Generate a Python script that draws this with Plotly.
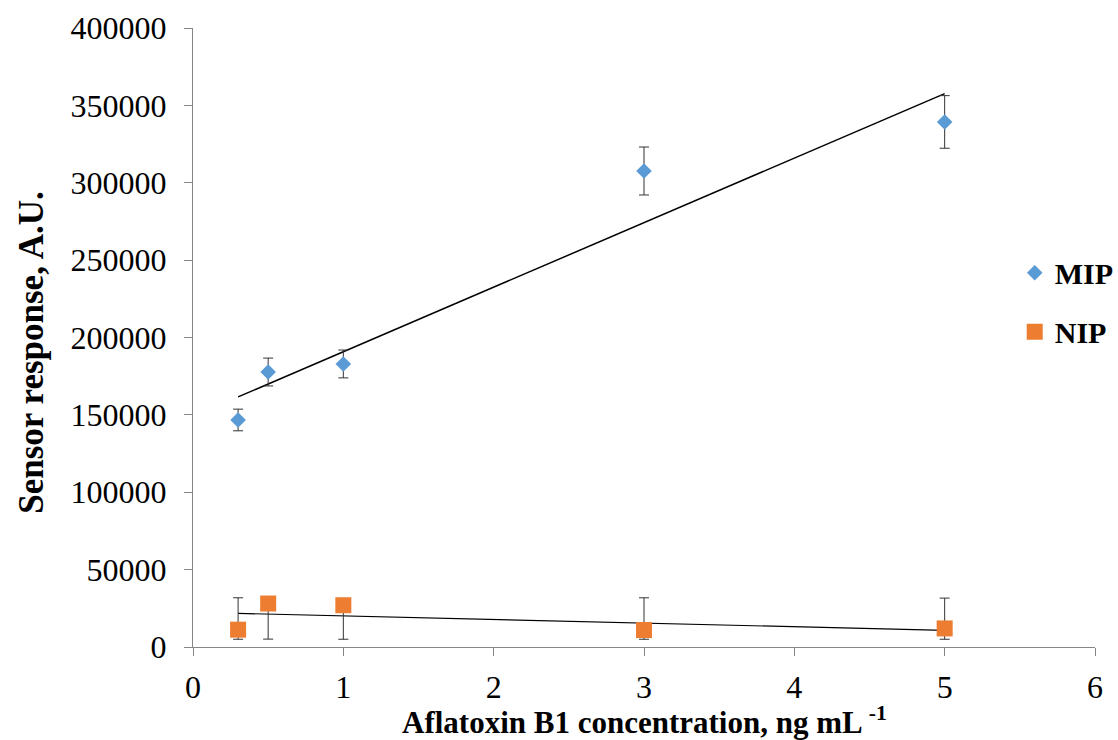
import numpy as np
import plotly.graph_objects as go

conc = [0.3, 0.5, 1, 3, 5]
mip = [146700, 177700, 182900, 307600, 339300]
mip_err = [7000, 9000, 9000, 15500, 17000]
nip = [11200, 28100, 27000, 11000, 12000]
nip_err_plus = [20600, 4000, 4000, 20800, 19600]
nip_err_minus = [6200, 23000, 22000, 6000, 7000]

x_ticks = [0, 1, 2, 3, 4, 5, 6]
y_ticks = list(range(0, 400001, 50000))

FONT = "Liberation Serif"

fig = go.Figure()

# trendlines (linear least squares, like Excel)
for ys, w in ((mip, 1.5), (nip, 1.2)):
    k, b = np.polyfit(conc, ys, 1)
    xs = [min(conc), max(conc)]
    fig.add_trace(go.Scatter(x=xs, y=[k * v + b for v in xs], mode="lines",
                             line=dict(color="black", width=w),
                             showlegend=False, hoverinfo="skip"))

fig.add_trace(go.Scatter(
    x=conc, y=mip, mode="markers", name="MIP", legendgroup="a",
    marker=dict(symbol="diamond", size=12, color="#5B9BD5"),
    error_y=dict(type="data", array=mip_err, color="#333333", thickness=1, width=5)))
fig.add_trace(go.Scatter(
    x=conc, y=nip, mode="markers", name="NIP", legendgroup="b",
    marker=dict(symbol="square", size=16, color="#ED7D31"),
    error_y=dict(type="data", symmetric=False, array=nip_err_plus,
                 arrayminus=nip_err_minus, color="#333333", thickness=1, width=5)))

axis_common = dict(showline=True, linecolor="#868686", linewidth=1,
                   showgrid=False, zeroline=False, ticks="outside",
                   tickcolor="#868686", ticklen=8,
                   tickfont=dict(family=FONT, size=32, color="black"))

fig.update_xaxes(range=[0, 6], tickvals=x_ticks, ticklabelstandoff=4, **axis_common)
fig.update_yaxes(range=[0, 400000], tickvals=y_ticks, tickformat="d",
                 ticklabelstandoff=11, **axis_common)

fig.add_annotation(text="<b>Aflatoxin B1 concentration, ng mL <sup>-1</sup></b>",
                   xref="paper", yref="paper", x=0.5, y=-0.118,
                   xanchor="center", yanchor="middle", showarrow=False,
                   font=dict(family=FONT, size=31, color="black"))
fig.add_annotation(text="<b>Sensor response, A.U.</b>", textangle=-90,
                   xref="paper", yref="paper", x=-0.1785, y=0.477,
                   xanchor="center", yanchor="middle", showarrow=False,
                   font=dict(family=FONT, size=35, color="black"))

fig.update_layout(
    width=1118, height=740,
    margin=dict(l=193, r=23, t=28, b=93, autoexpand=False),
    paper_bgcolor="white", plot_bgcolor="white",
    legend=dict(x=0.911, y=0.557, xanchor="left", yanchor="middle",
                traceorder="grouped", tracegroupgap=17,
                font=dict(family=FONT, size=30, color="black"),
                bgcolor="rgba(0,0,0,0)", itemwidth=30),
    font=dict(family=FONT),
)
fig.update_layout(legend_font_weight="bold")

fig.write_html("out.html", config={"displayModeBar": False},
               post_script="document.body.style.margin='0';document.body.style.overflow='hidden';")
